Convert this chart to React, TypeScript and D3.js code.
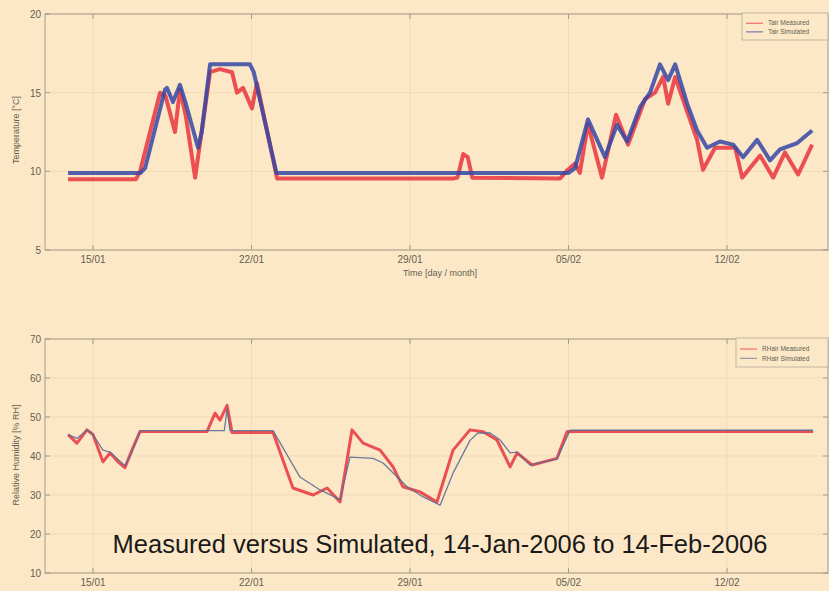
import React, { useRef, useEffect } from 'react';
import * as d3 from 'd3';

// days are counted in January days (Jan 15 = 15, Feb 5 = 36)
const tairMeasDay = [13.9, 16.9, 17.08, 17.96, 18.2, 18.62, 18.84, 19.1, 19.51, 20.17, 20.6, 21.14, 21.36, 21.63, 22.02, 22.24, 23.13, 30.9, 31.1, 31.35, 31.55, 31.75, 35.63, 35.9, 36.29, 36.5, 36.86, 37.48, 38.1, 38.63, 39.38, 39.82, 40.18, 40.4, 40.71, 41.24, 41.68, 41.94, 42.47, 43.36, 43.67, 44.46, 45.04, 45.56, 46.14, 46.76];
const tairMeas = [9.5, 9.5, 10.0, 15.0, 14.8, 12.5, 15.2, 13.5, 9.6, 16.3, 16.5, 16.3, 15.0, 15.3, 14.0, 15.6, 9.55, 9.55, 9.6, 11.1, 10.9, 9.6, 9.55, 10.0, 10.5, 9.9, 13.0, 9.6, 13.6, 11.7, 14.6, 15.0, 16.0, 14.3, 16.0, 13.8, 12.0, 10.1, 11.5, 11.5, 9.6, 11.0, 9.6, 11.2, 9.8, 11.7];

const tairSimDay = [13.9, 17.1, 17.3, 18.18, 18.27, 18.53, 18.84, 19.1, 19.64, 19.8, 20.17, 21.93, 22.1, 23.1, 36.0, 36.29, 36.86, 37.61, 38.14, 38.59, 39.16, 39.6, 40.04, 40.4, 40.71, 41.24, 41.68, 42.12, 42.69, 43.27, 43.71, 44.33, 44.9, 45.34, 46.1, 46.76];
const tairSim = [9.9, 9.9, 10.2, 15.2, 15.3, 14.4, 15.5, 14.3, 11.5, 12.5, 16.8, 16.8, 16.3, 9.9, 9.9, 10.2, 13.3, 10.9, 12.95, 11.9, 14.1, 15.0, 16.8, 15.8, 16.8, 14.3, 12.6, 11.5, 11.9, 11.7, 10.9, 12.0, 10.7, 11.4, 11.8, 12.6];

const rhMeasDay = [13.9, 14.29, 14.73, 15.0, 15.44, 15.75, 16.1, 16.41, 16.72, 17.08, 20.04, 20.39, 20.61, 20.92, 21.14, 22.95, 23.83, 24.72, 25.34, 25.91, 26.44, 26.93, 27.68, 28.25, 28.69, 29.44, 30.19, 30.9, 31.65, 32.23, 32.84, 33.42, 33.73, 34.39, 35.49, 35.94, 46.8];
const rhMeas = [45.5, 43.3, 46.7, 45.5, 38.5, 40.8, 38.5, 37.0, 41.5, 46.3, 46.3, 51.0, 49.2, 53.0, 46.0, 46.0, 31.8, 30.0, 31.8, 28.2, 46.7, 43.3, 41.5, 37.2, 32.1, 30.8, 28.2, 41.5, 46.7, 46.2, 44.1, 37.2, 40.8, 37.7, 39.4, 46.3, 46.3];

const rhSimDay = [13.9, 14.29, 14.73, 15.0, 15.44, 15.75, 16.41, 16.72, 17.08, 20.8, 20.92, 21.05, 22.95, 24.14, 25.03, 25.91, 26.35, 27.37, 27.81, 28.87, 29.58, 30.33, 30.9, 31.65, 32.0, 32.54, 32.98, 33.42, 33.73, 34.3, 35.49, 36.07, 46.8];
const rhSim = [45.5, 44.5, 46.7, 45.5, 41.5, 41.0, 37.5, 41.0, 46.5, 46.5, 52.0, 46.5, 46.5, 34.6, 31.3, 28.8, 39.7, 39.4, 38.2, 32.1, 29.5, 27.4, 35.6, 44.0, 45.9, 45.9, 44.1, 40.8, 41.0, 37.7, 39.2, 46.6, 46.6];

const tickDays = [15, 22, 29, 36, 43];
const tempTicks = [5, 10, 15, 20];
const rhTicks = [10, 20, 30, 40, 50, 60, 70];

const BG = '#fce8c7';
const FRAME = '#a39a88';
const TXT = '#655e52';
const RED = '#e8343c';
const BLUE = '#3546a4';

const base = new Date(2006, 0, 1).getTime();
const toDate = (d: number) => new Date(base + (d - 1) * 864e5);

function panel(svg: any, x: any, y: any, yTicks: number[], top: number, bottom: number, left: number, right: number) {
  const g = svg.append('g');
  // grid
  g.selectAll('line.gx').data(tickDays).join('line')
    .attr('x1', (d: number) => x(toDate(d))).attr('x2', (d: number) => x(toDate(d)))
    .attr('y1', top).attr('y2', bottom)
    .attr('stroke', '#f3d9b4').attr('stroke-width', 1);
  g.selectAll('line.gy').data(yTicks).join('line')
    .attr('x1', left).attr('x2', right)
    .attr('y1', (d: number) => y(d)).attr('y2', (d: number) => y(d))
    .attr('stroke', '#f3d9b4').attr('stroke-width', 1);
  // frame
  g.append('rect')
    .attr('x', left).attr('y', top)
    .attr('width', right - left).attr('height', bottom - top)
    .attr('fill', 'none').attr('stroke', FRAME).attr('stroke-width', 1);
  // ticks inward
  g.selectAll('line.tx').data(tickDays).join('line')
    .attr('x1', (d: number) => x(toDate(d))).attr('x2', (d: number) => x(toDate(d)))
    .attr('y1', bottom).attr('y2', bottom - 5)
    .attr('stroke', FRAME);
  g.selectAll('line.tx2').data(tickDays).join('line')
    .attr('x1', (d: number) => x(toDate(d))).attr('x2', (d: number) => x(toDate(d)))
    .attr('y1', top).attr('y2', top + 5)
    .attr('stroke', FRAME);
  g.selectAll('line.ty').data(yTicks).join('line')
    .attr('x1', left).attr('x2', left + 5)
    .attr('y1', (d: number) => y(d)).attr('y2', (d: number) => y(d))
    .attr('stroke', FRAME);
  g.selectAll('line.ty2').data(yTicks).join('line')
    .attr('x1', right).attr('x2', right - 5)
    .attr('y1', (d: number) => y(d)).attr('y2', (d: number) => y(d))
    .attr('stroke', FRAME);
  // tick labels
  const fmt = d3.timeFormat('%d/%m');
  g.selectAll('text.lx').data(tickDays).join('text')
    .attr('x', (d: number) => x(toDate(d))).attr('y', bottom + 13)
    .attr('text-anchor', 'middle')
    .attr('font-family', 'Liberation Sans, Arial, sans-serif')
    .attr('font-size', 10).attr('fill', TXT)
    .text((d: number) => fmt(toDate(d)));
  g.selectAll('text.ly').data(yTicks).join('text')
    .attr('x', left - 4).attr('y', (d: number) => y(d) + 4)
    .attr('text-anchor', 'end')
    .attr('font-family', 'Liberation Sans, Arial, sans-serif')
    .attr('font-size', 10).attr('fill', TXT)
    .text((d: number) => d);
}

function legend(svg: any, x0: number, y0: number, w: number, h: number, labels: string[], colors: string[]) {
  const g = svg.append('g');
  g.append('rect').attr('x', x0).attr('y', y0).attr('width', w).attr('height', h)
    .attr('fill', BG).attr('stroke', '#b3aa98').attr('stroke-width', 0.8);
  labels.forEach((l, i) => {
    const yy = y0 + h * (0.38 + i * 0.32);
    g.append('line').attr('x1', x0 + 4).attr('x2', x0 + 21).attr('y1', yy).attr('y2', yy)
      .attr('stroke', colors[i]).attr('stroke-width', 0.8);
    g.append('text').attr('x', x0 + 26).attr('y', yy + 2.2)
      .attr('font-family', 'Liberation Sans, Arial, sans-serif')
      .attr('font-size', 6.5).attr('fill', TXT).text(l);
  });
}

function draw(svg: any) {
  svg.selectAll('*').remove();
  const W = 829, H = 591;
  const left = 45, right = 828;

  svg.append('rect').attr('width', W).attr('height', H).attr('fill', BG);

  const x = d3.scaleTime()
    .domain([toDate(12.88), toDate(47.46)])
    .range([left, right]);

  // temperature panel
  const yT = d3.scaleLinear().domain([5, 20]).range([250, 14]);
  panel(svg, x, yT, tempTicks, 14, 250, left, right);

  const lineT = (days: number[]) => d3.line<number>()
    .x((_, i) => x(toDate(days[i])))
    .y(d => yT(d));

  svg.append('path').attr('d', lineT(tairMeasDay)(tairMeas))
    .attr('fill', 'none').attr('stroke', RED).attr('stroke-width', 4)
    .attr('stroke-linejoin', 'round').attr('opacity', 0.85);
  svg.append('path').attr('d', lineT(tairSimDay)(tairSim))
    .attr('fill', 'none').attr('stroke', BLUE).attr('stroke-width', 4)
    .attr('stroke-linejoin', 'round').attr('opacity', 0.85);

  legend(svg, 742, 13, 86, 27, ['Tair Measured', 'Tair Simulated'], [RED, BLUE]);

  svg.append('text')
    .attr('transform', `translate(19, 130) rotate(-90)`)
    .attr('text-anchor', 'middle')
    .attr('font-family', 'Liberation Sans, Arial, sans-serif')
    .attr('font-size', 9).attr('fill', TXT)
    .text('Temperature [°C]');
  svg.append('text')
    .attr('x', 440).attr('y', 276)
    .attr('text-anchor', 'middle')
    .attr('font-family', 'Liberation Sans, Arial, sans-serif')
    .attr('font-size', 9).attr('fill', TXT)
    .text('Time [day / month]');

  // humidity panel
  const yH = d3.scaleLinear().domain([10, 70]).range([573, 339]);
  panel(svg, x, yH, rhTicks, 339, 573, left, right);

  const lineH = (days: number[]) => d3.line<number>()
    .x((_, i) => x(toDate(days[i])))
    .y(d => yH(d));

  svg.append('path').attr('d', lineH(rhMeasDay)(rhMeas))
    .attr('fill', 'none').attr('stroke', RED).attr('stroke-width', 3)
    .attr('stroke-linejoin', 'round').attr('opacity', 0.85);
  svg.append('path').attr('d', lineH(rhSimDay)(rhSim))
    .attr('fill', 'none').attr('stroke', '#5e6d96').attr('stroke-width', 1.3)
    .attr('stroke-linejoin', 'round').attr('opacity', 0.9);

  legend(svg, 736, 338, 92, 29, ['RHair Measured', 'RHair Simulated'], [RED, '#5e6d96']);

  svg.append('text')
    .attr('transform', `translate(19, 455) rotate(-90)`)
    .attr('text-anchor', 'middle')
    .attr('font-family', 'Liberation Sans, Arial, sans-serif')
    .attr('font-size', 9).attr('fill', TXT)
    .text('Relative Humidity [% RH]');

  svg.append('text')
    .attr('x', 440).attr('y', 553)
    .attr('text-anchor', 'middle')
    .attr('font-family', 'Liberation Sans, Arial, sans-serif')
    .attr('font-size', 25.5).attr('fill', '#1a1a1a')
    .text('Measured versus Simulated, 14-Jan-2006 to 14-Feb-2006');
}

export default function App() {
  const ref = useRef<SVGSVGElement>(null);

  useEffect(() => {
    if (ref.current) {
      draw(d3.select(ref.current));
    }
  }, []);

  return (
    <svg
      ref={ref}
      width={829}
      height={591}
      style={{ position: 'absolute', left: 0, top: 0 }}
    />
  );
}
